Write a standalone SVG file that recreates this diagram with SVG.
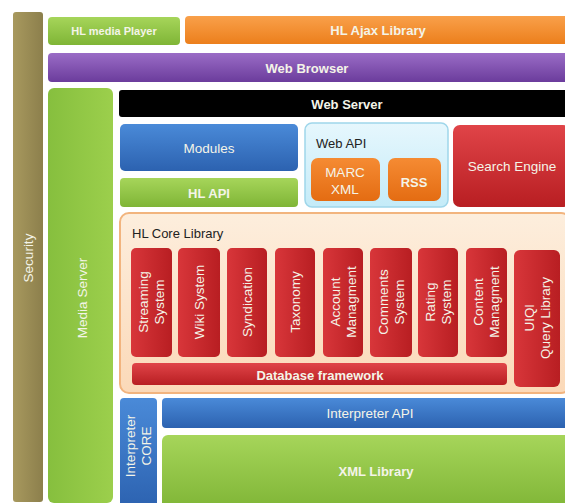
<svg xmlns="http://www.w3.org/2000/svg" width="565" height="503" viewBox="0 0 565 503">
<defs>
<linearGradient id="gGreen" x1="0" y1="0" x2="0" y2="1"><stop offset="0" stop-color="#a6d55a"/><stop offset="1" stop-color="#7fb536"/></linearGradient>
<linearGradient id="gGreenH" x1="0" y1="0" x2="1" y2="0"><stop offset="0" stop-color="#86bf3e"/><stop offset="1" stop-color="#9ccf4c"/></linearGradient>
<linearGradient id="gOrange" x1="0" y1="0" x2="0" y2="1"><stop offset="0" stop-color="#f9a04a"/><stop offset="1" stop-color="#ec7f1c"/></linearGradient>
<linearGradient id="gOrange2" x1="0" y1="0" x2="0" y2="1"><stop offset="0" stop-color="#f58b33"/><stop offset="1" stop-color="#e46c12"/></linearGradient>
<linearGradient id="gPurple" x1="0" y1="0" x2="0" y2="1"><stop offset="0" stop-color="#9a6cc6"/><stop offset="1" stop-color="#6b3c9c"/></linearGradient>
<linearGradient id="gBlue" x1="0" y1="0" x2="0" y2="1"><stop offset="0" stop-color="#4a8ad8"/><stop offset="1" stop-color="#2c62b0"/></linearGradient>
<linearGradient id="gRed" x1="0" y1="0" x2="0" y2="1"><stop offset="0" stop-color="#e04448"/><stop offset="1" stop-color="#b81e22"/></linearGradient>
<linearGradient id="gRedH" x1="0" y1="0" x2="1" y2="0"><stop offset="0" stop-color="#d8363a"/><stop offset="1" stop-color="#b81e22"/></linearGradient>
<linearGradient id="gOlive" x1="0" y1="0" x2="1" y2="0"><stop offset="0" stop-color="#a8995e"/><stop offset="1" stop-color="#8c7f4c"/></linearGradient>
<linearGradient id="gPeach" x1="0" y1="0" x2="0" y2="1"><stop offset="0" stop-color="#fdeedd"/><stop offset="1" stop-color="#fbd9b8"/></linearGradient>
<linearGradient id="gLight" x1="0" y1="0" x2="0" y2="1"><stop offset="0" stop-color="#e6f7fd"/><stop offset="1" stop-color="#c4ebf8"/></linearGradient>
</defs>
<style>
text{font-family:"Liberation Sans","Open Sans",Arial,sans-serif;font-weight:bold;fill:#f4f4e8;text-anchor:middle;dominant-baseline:central;font-size:13px}
.dk{fill:#222;text-anchor:start;font-weight:normal}
.sm{font-size:11px}
.col{font-size:13.5px;font-weight:normal}
.n{font-weight:normal;font-size:13.5px}
</style>
<rect width="565" height="503" fill="#ffffff"/>
<g id="security"><rect x="13" y="12" width="30" height="490" rx="3" fill="url(#gOlive)"/><text class="n" transform="translate(28,258) rotate(-90)">Security</text></g>
<g id="hl-media-player"><rect x="48" y="17" width="132" height="28" rx="4" fill="url(#gGreen)"/><text class="sm" x="114" y="31">HL media Player</text></g>
<g id="hl-ajax-library"><rect x="185" y="16" width="385" height="28" rx="4" fill="url(#gOrange)"/><text x="378" y="30">HL Ajax Library</text></g>
<g id="web-browser"><rect x="48" y="53" width="522" height="29" rx="4" fill="url(#gPurple)"/><text x="307" y="68">Web Browser</text></g>
<g id="media-server"><rect x="48" y="88" width="65" height="415" rx="6" fill="url(#gGreenH)"/><text class="n" transform="translate(82,298) rotate(-90)">Media Server</text></g>
<g id="web-server"><rect x="119" y="90" width="451" height="27" rx="3" fill="#000"/><text x="347" y="104">Web Server</text></g>
<g id="modules"><rect x="120" y="124" width="178" height="47" rx="5" fill="url(#gBlue)"/><text class="n" x="209" y="148">Modules</text></g>
<g id="hl-api"><rect x="120" y="178" width="178" height="29" rx="4" fill="url(#gGreen)"/><text x="209" y="193">HL API</text></g>
<g id="web-api"><rect x="305" y="123" width="143" height="84" rx="7" fill="url(#gLight)" stroke="#9fd6ea" stroke-width="1.5"/><text class="dk" x="316" y="143">Web API</text>
<g id="marc-xml"><rect x="311" y="158" width="69" height="43" rx="7" fill="url(#gOrange2)"/><text class="n" x="345" y="172">MARC</text><text class="n" x="345" y="189">XML</text></g>
<g id="rss"><rect x="388" y="158" width="53" height="43" rx="7" fill="url(#gOrange2)"/><text x="414" y="182">RSS</text></g></g>
<g id="search-engine"><rect x="453" y="125" width="117" height="82" rx="7" fill="url(#gRed)"/><text class="n" x="512" y="166">Search Engine</text></g>
<g id="hl-core-library"><rect x="120" y="213" width="450" height="180" rx="9" fill="url(#gPeach)" stroke="#f2b47e" stroke-width="2"/><text class="dk" x="132" y="233">HL Core Library</text>
<g id="streaming-system"><rect x="131" y="248" width="41" height="109" rx="5" fill="url(#gRedH)"/><text class="col" transform="translate(151,302) rotate(-90)"><tspan x="0" y="-8">Streaming</tspan><tspan x="0" y="8">System</tspan></text></g>
<g id="wiki-system"><rect x="178" y="248" width="42" height="109" rx="5" fill="url(#gRedH)"/><text class="col" transform="translate(199,302) rotate(-90)">Wiki System</text></g>
<g id="syndication"><rect x="227" y="248" width="40" height="109" rx="5" fill="url(#gRedH)"/><text class="col" transform="translate(247,302) rotate(-90)">Syndication</text></g>
<g id="taxonomy"><rect x="275" y="248" width="40" height="109" rx="5" fill="url(#gRedH)"/><text class="col" transform="translate(295,302) rotate(-90)">Taxonomy</text></g>
<g id="account-managment"><rect x="323" y="248" width="40" height="109" rx="5" fill="url(#gRedH)"/><text class="col" transform="translate(343,302) rotate(-90)"><tspan x="0" y="-8">Account</tspan><tspan x="0" y="8">Managment</tspan></text></g>
<g id="comments-system"><rect x="370" y="248" width="42" height="109" rx="5" fill="url(#gRedH)"/><text class="col" transform="translate(391,302) rotate(-90)"><tspan x="0" y="-8">Comments</tspan><tspan x="0" y="8">System</tspan></text></g>
<g id="rating-system"><rect x="418" y="248" width="40" height="109" rx="5" fill="url(#gRedH)"/><text class="col" transform="translate(438,302) rotate(-90)"><tspan x="0" y="-8">Rating</tspan><tspan x="0" y="8">System</tspan></text></g>
<g id="content-managment"><rect x="466" y="248" width="41" height="109" rx="5" fill="url(#gRedH)"/><text class="col" transform="translate(486,302) rotate(-90)"><tspan x="0" y="-8">Content</tspan><tspan x="0" y="8">Managment</tspan></text></g>
<g id="uiql-query-library"><rect x="514" y="250" width="46" height="137" rx="6" fill="url(#gRedH)"/><text class="col" transform="translate(537,318) rotate(-90)"><tspan x="0" y="-8">UIQl</tspan><tspan x="0" y="8">Query Library</tspan></text></g>
<g id="database-framework"><rect x="132" y="363" width="375" height="22" rx="4" fill="url(#gRed)"/><text x="320" y="375">Database framework</text></g></g>
<g id="interpreter-core"><rect x="120" y="398" width="37" height="110" rx="4" fill="url(#gBlue)"/><text class="n" transform="translate(138,446) rotate(-90)"><tspan x="0" y="-8">Interpreter</tspan><tspan x="0" y="8">CORE</tspan></text></g>
<g id="interpreter-api"><rect x="162" y="398" width="408" height="30" rx="4" fill="url(#gBlue)"/><text class="n" x="370" y="413">Interpreter API</text></g>
<g id="xml-library"><rect x="162" y="435" width="408" height="75" rx="6" fill="url(#gGreen)"/><text x="376" y="471">XML Library</text></g>
<g id="connectors"></g>
</svg>
